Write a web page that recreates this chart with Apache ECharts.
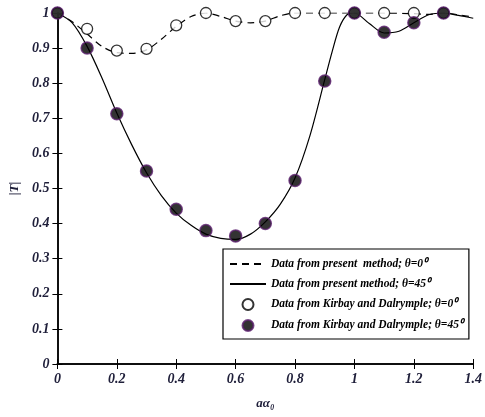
<!DOCTYPE html>
<html>
<head>
<meta charset="utf-8">
<script src="https://cdn.jsdelivr.net/npm/echarts@6/dist/echarts.min.js"></script>
<style>
  html, body { margin: 0; padding: 0; background: #fff; }
  #J_chart { width: 485px; height: 417px; }
</style>
</head>
<body>
<div id="J_chart"></div>
<script>
// curve of present method, theta = 0 (dashed)
var curveX0 = [0, 0.05, 0.1, 0.15, 0.2, 0.25, 0.3, 0.35, 0.4, 0.45, 0.5, 0.55, 0.6, 0.65, 0.7, 0.75, 0.8, 0.9, 1.0, 1.1, 1.2, 1.25, 1.3, 1.35, 1.4];
var curveY0 = [1.0, 0.975, 0.94, 0.905, 0.887, 0.885, 0.895, 0.925, 0.962, 0.99, 1.0, 0.99, 0.977, 0.972, 0.977, 0.992, 1.0, 1.0, 1.0, 1.0, 0.998, 0.996, 1.0, 0.995, 0.988];
// curve of present method, theta = 45 (solid)
var curveX45 = [0, 0.05, 0.1, 0.15, 0.2, 0.25, 0.3, 0.35, 0.4, 0.45, 0.5, 0.55, 0.6, 0.65, 0.7, 0.75, 0.8, 0.85, 0.9, 0.925, 0.95, 0.975, 1.0, 1.05, 1.1, 1.15, 1.2, 1.25, 1.3, 1.35, 1.4];
var curveY45 = [1.0, 0.972, 0.905, 0.815, 0.715, 0.625, 0.545, 0.48, 0.43, 0.395, 0.37, 0.358, 0.355, 0.37, 0.405, 0.455, 0.53, 0.65, 0.81, 0.89, 0.96, 0.995, 1.0, 0.97, 0.943, 0.948, 0.972, 0.995, 1.0, 0.993, 0.985];
// Kirby and Dalrymple points
var pointX = [0, 0.1, 0.2, 0.3, 0.4, 0.5, 0.6, 0.7, 0.8, 0.9, 1.0, 1.1, 1.2, 1.3];
var pointY0 = [1.0, 0.955, 0.893, 0.898, 0.965, 1.0, 0.977, 0.977, 1.0, 1.0, 1.0, 1.0, 1.0, 1.0];
var pointY45 = [1.0, 0.9, 0.713, 0.55, 0.441, 0.38, 0.365, 0.4, 0.523, 0.806, 1.0, 0.945, 0.972, 1.0];

var names = [
    'Data from present  method; \u03b8=0\u2070',
    'Data from present method; \u03b8=45\u2070',
    'Data from Kirbay and Dalrymple; \u03b8=0\u2070',
    'Data from Kirbay and Dalrymple; \u03b8=45\u2070'
];

function pairs(xs, ys) {
    return xs.map(function (x, i) { return [x, ys[i]]; });
}

var serif = 'Liberation Serif';
var labelColor = '#1f1f3a';
var noSymbol = { color: 'rgba(0,0,0,0)', borderWidth: 0, opacity: 0 };

function fmt(v) {
    return String(+v.toFixed(1));
}

var chart = echarts.init(document.getElementById('J_chart'));
chart.setOption({
    animation: false,
    grid: { left: 56, top: 13, right: 11, bottom: 53 },
    legend: {
        orient: 'vertical',
        left: 223,
        top: 249,
        padding: [9, 6, 7, 6],
        itemWidth: 36,
        itemHeight: 11,
        itemGap: 8,
        borderColor: '#000',
        borderWidth: 1.2,
        backgroundColor: '#fff',
        data: [
            { name: names[0], itemStyle: noSymbol },
            { name: names[1], itemStyle: noSymbol },
            names[2],
            names[3]
        ],
        textStyle: {
            fontFamily: serif,
            fontStyle: 'italic',
            fontWeight: 'bold',
            fontSize: 11.5,
            color: '#000'
        }
    },
    xAxis: [{
        type: 'value',
        min: 0, max: 1.4, interval: 0.2,
        name: 'a\u03b1\u2080',
        nameLocation: 'middle',
        nameGap: 33,
        nameTextStyle: { fontFamily: serif, fontStyle: 'italic', fontWeight: 'bold', fontSize: 13, color: labelColor },
        axisLine: { lineStyle: { color: '#000', width: 1.5 } },
        axisTick: { inside: true, length: 5, lineStyle: { color: '#000' } },
        axisLabel: { formatter: fmt, margin: 8, fontFamily: serif, fontStyle: 'italic', fontWeight: 'bold', fontSize: 14, color: labelColor },
        splitLine: { show: false }
    }, {
        type: 'value', position: 'top',
        min: 0, max: 1.4, interval: 0.2,
        axisLine: { lineStyle: { color: '#000', width: 1.5 } },
        axisTick: { inside: true, length: 5, lineStyle: { color: '#000' } },
        axisLabel: { show: false },
        splitLine: { show: false }
    }],
    yAxis: [{
        type: 'value',
        min: 0, max: 1, interval: 0.1,
        name: '|T|',
        nameLocation: 'middle',
        nameGap: 34,
        nameTextStyle: { fontFamily: serif, fontStyle: 'italic', fontWeight: 'bold', fontSize: 13, color: labelColor },
        axisLine: { lineStyle: { color: '#000', width: 1.5 } },
        axisTick: { inside: true, length: 5, lineStyle: { color: '#000' } },
        axisLabel: { formatter: fmt, margin: 8, fontFamily: serif, fontStyle: 'italic', fontWeight: 'bold', fontSize: 14, color: labelColor },
        splitLine: { show: false }
    }, {
        type: 'value', position: 'right',
        min: 0, max: 1, interval: 0.1,
        axisLine: { lineStyle: { color: '#000', width: 1.5 } },
        axisTick: { inside: true, length: 5, lineStyle: { color: '#000' } },
        axisLabel: { show: false },
        splitLine: { show: false }
    }],
    series: [{
        name: names[0],
        type: 'line',
        smooth: 0.3,
        symbol: 'none',
        color: '#000',
        lineStyle: { color: '#000', width: 1.2, type: [7, 5] },
        data: pairs(curveX0, curveY0)
    }, {
        name: names[1],
        type: 'line',
        smooth: 0.3,
        symbol: 'none',
        color: '#000',
        lineStyle: { color: '#000', width: 1.2 },
        data: pairs(curveX45, curveY45)
    }, {
        name: names[2],
        type: 'scatter',
        symbolSize: 11,
        itemStyle: { color: '#fff', borderColor: '#000', borderWidth: 1.3 },
        z: 3,
        data: pairs(pointX, pointY0)
    }, {
        name: names[3],
        type: 'scatter',
        symbolSize: 12,
        itemStyle: { color: '#000', borderColor: '#5b1f6e', borderWidth: 1.5 },
        z: 4,
        data: pairs(pointX, pointY45)
    }]
});
</script>
</body>
</html>
